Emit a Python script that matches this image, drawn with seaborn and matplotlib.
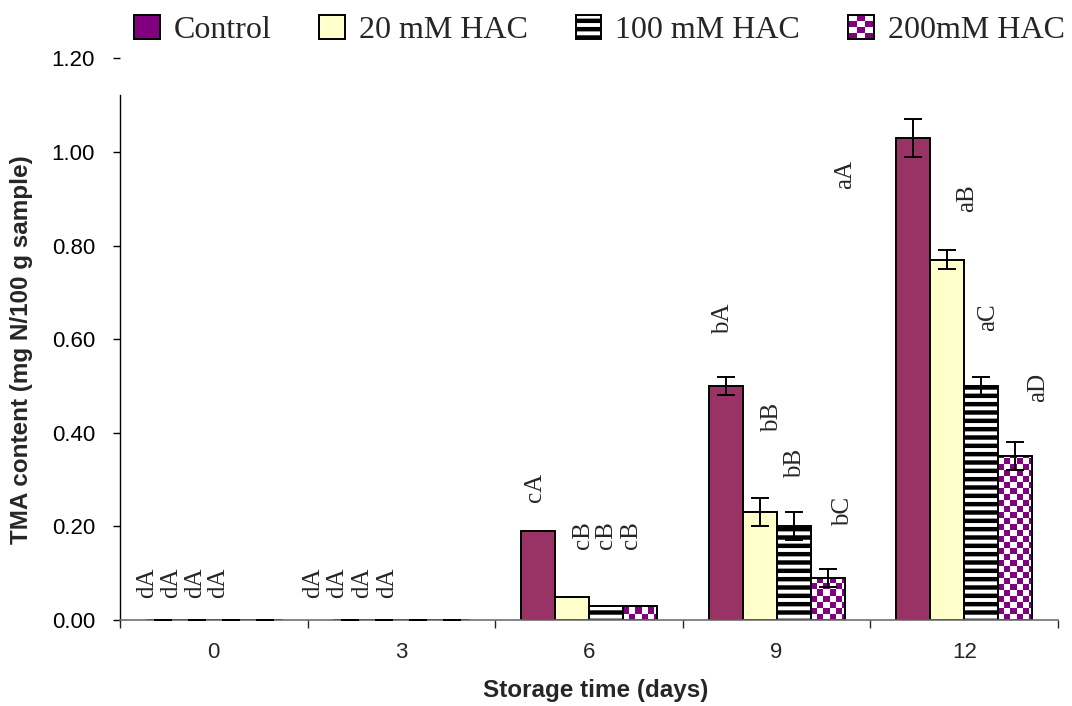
import numpy as np
import pandas as pd
import matplotlib
matplotlib.use("Agg")
import matplotlib.pyplot as plt
import seaborn as sns
from matplotlib.patches import Patch, Rectangle
from matplotlib.legend_handler import HandlerBase
from matplotlib.colors import ListedColormap

# ---- data -------------------------------------------------------------
days = ["0", "3", "6", "9", "12"]
treatments = ["Control", "20 mM HAC", "100 mM HAC", "200mM HAC"]

control = [0.00, 0.00, 0.19, 0.50, 1.03]
hac_20 = [0.00, 0.00, 0.05, 0.23, 0.77]
hac_100 = [0.00, 0.00, 0.03, 0.20, 0.50]
hac_200 = [0.00, 0.00, 0.03, 0.09, 0.35]

err_control = [0.00, 0.00, 0.00, 0.02, 0.04]
err_20 = [0.00, 0.00, 0.00, 0.03, 0.02]
err_100 = [0.00, 0.00, 0.00, 0.03, 0.02]
err_200 = [0.00, 0.00, 0.00, 0.02, 0.03]

letters = ["dA", "dA", "dA", "dA",
           "dA", "dA", "dA", "dA",
           "cA", "cB", "cB", "cB",
           "bA", "bB", "bB", "bC",
           "aA", "aB", "aC", "aD"]
# where each significance letter sits (category units, TMA units)
letter_xy = [(-0.356, 0.079), (-0.228, 0.079), (-0.100, 0.079), (0.022, 0.079),
             (0.529, 0.079), (0.657, 0.079), (0.790, 0.079), (0.923, 0.079),
             (1.712, 0.284), (1.967, 0.182), (2.089, 0.182), (2.222, 0.182),
             (2.714, 0.643), (2.975, 0.434), (3.098, 0.335), (3.354, 0.231),
             (3.365, 0.951), (4.015, 0.902), (4.127, 0.647), (4.393, 0.496)]

values = [control, hac_20, hac_100, hac_200]
errors = [err_control, err_20, err_100, err_200]

df = pd.DataFrame({
    "day": np.tile(days, len(treatments)),
    "treatment": np.repeat(treatments, len(days)),
    "tma": np.concatenate(values),
})

# ---- style ------------------------------------------------------------
sns.set_style("ticks")
plt.rcParams["font.family"] = ["Liberation Sans", "DejaVu Sans"]
plt.rcParams["hatch.linewidth"] = 3.2
SERIF = ["Liberation Serif", "DejaVu Serif"]

MAROON = "#993366"
PURPLE = "#800080"
CREAM = "#FFFFCC"
fills = [MAROON, CREAM, "white", "none"]

fig = plt.figure(figsize=(10.72, 7.06), dpi=100)
ax = fig.add_axes([120 / 1072, 1 - 620 / 706, 938 / 1072, (620 - 58.4) / 706])

sns.barplot(data=df, x="day", y="tma", hue="treatment", order=days,
            hue_order=treatments, width=0.725, errorbar=None,
            edgecolor="black", linewidth=1.4, legend=False, ax=ax)

ax.set_xlim(-0.5, 4.5)
ax.set_ylim(0, 1.2)

for cont, fc in zip(ax.containers, fills):
    for bar in cont:
        bar.set_facecolor(fc)
        bar.set_edgecolor("black")
        bar.set_zorder(2)
for bar in ax.containers[2]:
    bar.set_hatch("--")

# checkerboard fill for the 200 mM bars, clipped to each bar
fig.canvas.draw()
ax_w_px = ax.get_window_extent().width
ax_h_px = ax.get_window_extent().height
cell_px = 6.0
cx = cell_px * 5.0 / ax_w_px
cy = cell_px * 1.2 / ax_h_px
checker_cmap = ListedColormap(["white", PURPLE])
for bar in ax.containers[3]:
    h = bar.get_height()
    if h <= 0:
        continue
    x0 = bar.get_x()
    ncol = int(np.ceil(bar.get_width() / cx))
    nrow = int(np.ceil(h / cy))
    grid = (np.add.outer(np.arange(nrow), np.arange(ncol)) % 2).astype(float)
    im = ax.imshow(grid, extent=(x0, x0 + ncol * cx, 0, nrow * cy),
                   origin="lower", cmap=checker_cmap, vmin=0, vmax=1,
                   interpolation="nearest", aspect="auto", zorder=1.9)
    im.set_clip_path(bar)
ax.set_xlim(-0.5, 4.5)
ax.set_ylim(0, 1.2)

# error bars at the bar centres
for cont, val, err in zip(ax.containers, values, errors):
    centers = [b.get_x() + b.get_width() / 2 for b in cont]
    ax.errorbar(centers, val, yerr=err, fmt="none", ecolor="black",
                elinewidth=1.4, capsize=6.5, capthick=1.4, zorder=3)

# significance letters
for txt, (lx, ly) in zip(letters, letter_xy):
    ax.text(lx, ly, txt, rotation=90, ha="center", va="center",
            fontsize=18, family=SERIF, zorder=4)

# ---- axes -------------------------------------------------------------
ax.set_yticks(np.arange(0, 1.21, 0.2))
ax.set_yticklabels([f"{v:.2f}" for v in np.arange(0, 1.21, 0.2)])
ax.tick_params(axis="y", direction="out", length=5, width=1, labelsize=16,
               pad=13, colors="black")
ax.set_xticks(range(len(days)))
ax.set_xticklabels(days)
ax.set_xticks(np.arange(-0.5, 4.6, 1.0), minor=True)
ax.tick_params(axis="x", which="major", length=0, labelsize=16, pad=16)
ax.tick_params(axis="x", which="minor", direction="out", length=6, width=1)

for side in ("top", "right"):
    ax.spines[side].set_visible(False)
ax.spines["left"].set_bounds(0, 1.122)
ax.spines["left"].set_linewidth(1)
ax.spines["left"].set_color("black")
ax.spines["bottom"].set_linewidth(1.2)
ax.spines["bottom"].set_color("#707070")

ax.set_xlabel("Storage time (days)", fontsize=17.5, fontweight="bold")
ax.set_ylabel("TMA content (mg N/100 g sample)", fontsize=17.5,
              fontweight="bold")
ax.yaxis.set_label_coords(-(120 - 33) / 938, (620 - 350) / 561.6)
ax.xaxis.set_label_coords((596 - 120) / 938, -(679 - 620) / 561.6)


# ---- legend -----------------------------------------------------------
class CheckerHandler(HandlerBase):
    def create_artists(self, legend, orig_handle, xdescent, ydescent,
                       width, height, fontsize, trans):
        arts = []
        nx, ny = 3, 4
        cw, ch = width / nx, height / ny
        for i in range(nx):
            for j in range(ny):
                col = PURPLE if (i + j) % 2 == 0 else "white"
                arts.append(Rectangle((-xdescent + i * cw, -ydescent + j * ch),
                                      cw, ch, facecolor=col, edgecolor="none",
                                      transform=trans))
        arts.append(Rectangle((-xdescent, -ydescent), width, height,
                              facecolor="none", edgecolor="black", lw=1.4,
                              transform=trans))
        return arts


checker_handle = Patch(facecolor=PURPLE)
handles = [Patch(facecolor=PURPLE, edgecolor="black", linewidth=1.4),
           Patch(facecolor=CREAM, edgecolor="black", linewidth=1.4),
           Patch(facecolor="white", edgecolor="black", linewidth=1.4, hatch="--"),
           checker_handle]
fig.legend(handles, treatments, loc="center left",
           bbox_to_anchor=(134 / 1072, 1 - 30 / 706), ncol=4, frameon=False,
           prop={"family": SERIF, "size": 23},
           handlelength=0.8, handleheight=0.78, handletextpad=0.44,
           columnspacing=1.5, borderaxespad=0, borderpad=0,
           handler_map={checker_handle: CheckerHandler()})

fig.savefig("out.png", dpi=100)
